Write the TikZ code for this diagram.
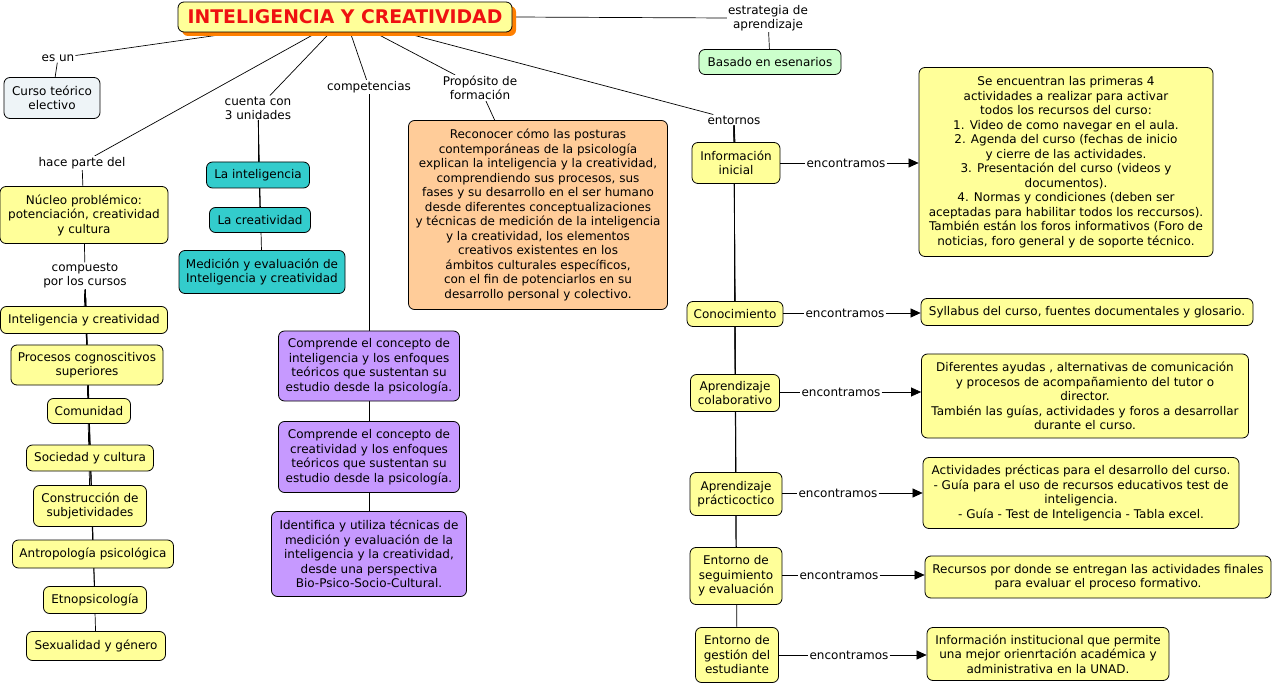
\documentclass[tikz,border=0pt]{standalone}
\usepackage{fontspec}
\setmainfont{DejaVu Sans}
\usetikzlibrary{backgrounds,arrows.meta}
\definecolor{cyel}{HTML}{FFFF99}
\definecolor{cteal}{HTML}{33CCCC}
\definecolor{cpurp}{HTML}{C699FF}
\definecolor{corange}{HTML}{FFCC99}
\definecolor{cgreen}{HTML}{CCFFCC}
\definecolor{cgrey}{HTML}{EEF4F7}
\definecolor{ctitle}{HTML}{EE1111}
\definecolor{cshadow}{HTML}{FF8000}
\begin{document}
\begin{tikzpicture}[x=1pt,y=-1pt,
  box/.style={draw=black, line width=0.8pt, rounded corners=6pt, align=center,
    inner xsep=1pt, inner ysep=1pt, font=\fontsize{12}{14.5}\selectfont},
  sz/.style 2 args={minimum width=#1pt, minimum height=#2pt},
  yel/.style={box, fill=cyel},
  teal/.style={box, fill=cteal},
  purp/.style={box, fill=cpurp},
  lab/.style={align=center, inner sep=1pt, fill=white, font=\fontsize{12}{14}\selectfont},
  con/.style={line width=0.7pt},
  arr/.style={con, -{Triangle[length=10pt,width=9pt]}}
]
\useasboundingbox (0,0) rectangle (1274,684);

% title
\node[box, sz={334}{30}, fill=cshadow, draw=none] (tshadow) at (349,21) {};
\node[box, sz={334}{30}, fill=cyel, font=\fontsize{18.8}{20}\selectfont\bfseries, text=ctitle] (title) at (345,17) {INTELIGENCIA Y CREATIVIDAD};

% labels
\node[lab] (esun) at (58,58) {es un};
\node[lab] (hace) at (82,163) {hace parte del};
\node[lab] (comp) at (85,276) {compuesto\\por los cursos};
\node[lab] (cuenta) at (258,108) {cuenta con\\3 unidades};
\node[lab] (compet) at (369,87) {competencias};
\node[lab] (prop) at (480,88) {Propósito de\\formación};
\node[lab] (estr) at (768,18) {estrategia de\\aprendizaje};
\node[lab] (ent) at (734,120) {entornos};

% left
\node[box, fill=cgrey, sz={96}{41}] (curso) at (52,98) {Curso teórico\\electivo};
\node[yel, sz={168}{57}] (nucleo) at (84,215) {Núcleo problémico:\\potenciación, creatividad\\y cultura};
\node[yel, sz={167}{27}] (c1) at (84,320) {Inteligencia y creatividad};
\node[yel, sz={152}{40}] (c2) at (87,365) {Procesos cognoscitivos\\superiores};
\node[yel, sz={83}{25}] (c3) at (89,411) {Comunidad};
\node[yel, sz={127}{26}] (c4) at (90,458) {Sociedad y cultura};
\node[yel, sz={113}{41}] (c5) at (90,506) {Construcción de\\subjetividades};
\node[yel, sz={161}{28}] (c6) at (93,554) {Antropología psicológica};
\node[yel, sz={103}{27}] (c7) at (95,600) {Etnopsicología};
\node[yel, sz={139}{29}] (c8) at (96,646) {Sexualidad y género};

% teal
\node[teal, sz={103}{26}] (u1) at (258,175) {La inteligencia};
\node[teal, sz={101}{25}] (u2) at (260,220) {La creatividad};
\node[teal, sz={166}{43}] (u3) at (262,272) {Medición y evaluación de\\Inteligencia y creatividad};

% purple
\node[purp, sz={181}{70}] (p1) at (369,366) {Comprende el concepto de\\inteligencia y los enfoques\\teóricos que sustentan su\\estudio desde la psicología.};
\node[purp, sz={181}{71}] (p2) at (369,457) {Comprende el concepto de\\creatividad y los enfoques\\teóricos que sustentan su\\estudio desde la psicología.};
\node[purp, sz={195}{85}] (p3) at (369,554) {Identifica y utiliza técnicas de\\medición y evaluación de la\\inteligencia y la creatividad,\\desde una perspectiva\\Bio-Psico-Socio-Cultural.};

% orange
\node[box, fill=corange, sz={259}{189}] (obj) at (538,215) {Reconocer cómo las posturas\\contemporáneas de la psicología\\explican la inteligencia y la creatividad,\\comprendiendo sus procesos, sus\\fases y su desarrollo en el ser humano\\desde diferentes conceptualizaciones\\y técnicas de medición de la inteligencia\\y la creatividad, los elementos\\creativos existentes en los\\ámbitos culturales específicos,\\con el fin de potenciarlos en su\\desarrollo personal y colectivo.};

% green
\node[box, fill=cgreen, sz={142}{25}] (bas) at (770,62) {Basado en esenarios};

% entornos
\node[yel, sz={88}{41}] (e1) at (736,163) {Información\\inicial};
\node[yel, sz={96}{25}] (e2) at (735,314) {Conocimiento};
\node[yel, sz={89}{37}] (e3) at (735,393) {Aprendizaje\\colaborativo};
\node[yel, sz={92}{43}] (e4) at (736,494) {Aprendizaje\\prácticoctico};
\node[yel, sz={92}{57}] (e5) at (736,576) {Entorno de\\seguimiento\\y evaluación};
\node[yel, sz={83}{55}] (e6) at (737,655) {Entorno de\\gestión del\\estudiante};

\node[lab] (n1) at (846,163) {encontramos};
\node[lab] (n2) at (845,313) {encontramos};
\node[lab] (n3) at (841,392) {encontramos};
\node[lab] (n4) at (838,493) {encontramos};
\node[lab] (n5) at (839,575) {encontramos};
\node[lab] (n6) at (849,655) {encontramos};

\node[yel, sz={294}{189}] (r1) at (1066,162) {Se encuentran las primeras 4\\actividades a realizar para activar\\todos los recursos del curso:\\1. Video de como navegar en el aula.\\2. Agenda del curso (fechas de inicio\\y cierre de las actividades.\\3. Presentación del curso (videos y\\documentos).\\4. Normas y condiciones (deben ser\\aceptadas para habilitar todos los reccursos).\\También están los foros informativos (Foro de\\noticias, foro general y de soporte técnico.};
\node[yel, sz={332}{27}] (r2) at (1087,312) {Syllabus del curso, fuentes documentales y glosario.};
\node[yel, sz={327}{84}] (r3) at (1085,396) {Diferentes ayudas , alternativas de comunicación\\y procesos de acompañamiento del tutor o\\director.\\También las guías, actividades y foros a desarrollar\\durante el curso.};
\node[yel, sz={316}{71}] (r4) at (1081,493) {Actividades précticas para el desarrollo del curso.\\- Guía para el uso de recursos educativos test de\\inteligencia.\\- Guía - Test de Inteligencia - Tabla excel.};
\node[yel, sz={346}{42}] (r5) at (1098,577) {Recursos por donde se entregan las actividades finales\\para evaluar el proceso formativo.};
\node[yel, sz={242}{53}] (r6) at (1048,654) {Información institucional que permite\\una mejor orienrtación académica y\\administrativa en la UNAD.};

\begin{scope}[on background layer]
\draw[con] (title) -- (esun);
\draw[con] (title) -- (hace);
\draw[con] (title) -- (cuenta);
\draw[con] (title) -- (compet);
\draw[con] (title) -- (prop);
\draw[con] (title) -- (ent);
\draw[con] (title.east) -- (estr.west);
\draw[con] (esun) -- (curso);
\draw[con] (hace) -- (nucleo);
\draw[con] (nucleo) -- (comp);
\foreach \c in {c1,c2,c3,c4,c5,c6,c7,c8} \draw[con] (comp) -- (\c);
\foreach \u in {u1,u2,u3} \draw[con] (cuenta) -- (\u);
\foreach \p in {p1,p2,p3} \draw[con] (compet.south) -- (compet.south |- \p.north);
\draw[con] (p1) -- (p2);
\draw[con] (p2) -- (p3);
\draw[con] (prop) -- (obj);
\draw[con] (estr) -- (bas);
\foreach \e in {e1,e2,e3,e4,e5,e6} \draw[con] (ent) -- (\e);
\end{scope}
\foreach \i in {1,...,6} {
  \draw[con] (e\i.east |- n\i) -- (n\i.west);
  \draw[arr] (n\i.east) -- (n\i.east -| r\i.west);
}
\end{tikzpicture}
\end{document}
